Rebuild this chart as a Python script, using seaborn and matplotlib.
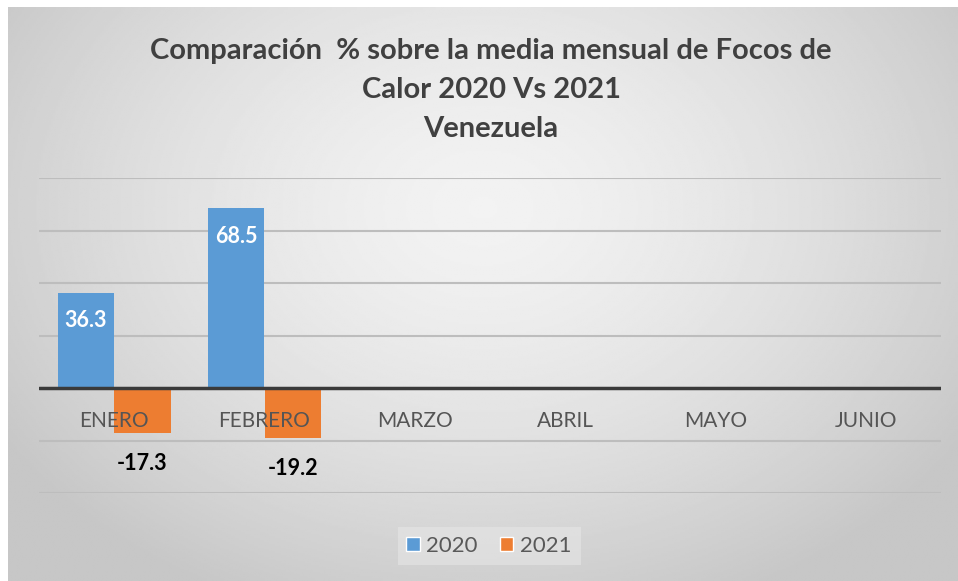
import numpy as np
import pandas as pd
import matplotlib
matplotlib.use("Agg")
import matplotlib.pyplot as plt
import seaborn as sns
from matplotlib.patches import Patch

meses = ["ENERO", "FEBRERO", "MARZO", "ABRIL", "MAYO", "JUNIO"]
val_2020 = [36.3, 68.5, None, None, None, None]
val_2021 = [-17.3, -19.2, None, None, None, None]
anios = ["2020", "2021"]
colores = ["#5B9BD5", "#ED7D31"]

df = pd.DataFrame({
    "mes": meses * 2,
    "anio": [anios[0]] * len(meses) + [anios[1]] * len(meses),
    "valor": val_2020 + val_2021,
}).dropna()

sns.set_style("white")
plt.rcParams["font.family"] = ["Lato", "DejaVu Sans"]

fig = plt.figure(figsize=(9.58, 5.81), dpi=100)

# fondo gris con degradado radial
bg = fig.add_axes([8 / 958, 0, 950 / 958, 574 / 581])
yy, xx = np.mgrid[0:1:300j, 0:1:500j]
r = np.sqrt(((xx - 0.5) / 0.6) ** 2 + ((yy - 0.35) / 0.75) ** 2)
bg.imshow(0.95 - 0.17 * np.clip(r, 0, 1) ** 1.5, cmap="gray", vmin=0, vmax=1,
          aspect="auto", extent=[0, 1, 1, 0])
bg.axis("off")

ax = fig.add_axes([39 / 958, 88 / 581, 902 / 958, 315 / 581])
ax.patch.set_alpha(0)
sns.barplot(data=df, x="mes", y="valor", hue="anio", order=meses, hue_order=anios,
            palette=colores, width=0.75, gap=0, saturation=1, linewidth=0,
            legend=False, ax=ax, zorder=2)

ax.set_xlim(-0.5, len(meses) - 0.5)
ax.set_ylim(-40, 80)
ax.set_yticks(range(-40, 81, 20))
ax.yaxis.grid(True, color="#bdbdbd", lw=1.5, zorder=0)
ax.set_axisbelow(True)
ax.tick_params(left=False, bottom=False, labelleft=False, labelbottom=False)
ax.set_xlabel("")
ax.set_ylabel("")
sns.despine(ax=ax, left=True, bottom=True)
ax.axhline(0, color="#3a3a3a", lw=2.5, zorder=3)

for i, m in enumerate(meses):
    ax.annotate(m, (i, 0), xytext=(0, -33), textcoords="offset pixels", ha="center",
                va="center", fontsize=15, color="#555555", zorder=5)

for cont in ax.containers:
    for rect in cont:
        h = rect.get_height()
        if np.isnan(h) or h == 0:
            continue
        x = rect.get_x() + rect.get_width() / 2
        if h > 0:
            ax.annotate(f"{h:.1f}", (x, h), xytext=(0, -28), textcoords="offset pixels",
                        ha="center", va="center", fontsize=15.5, fontweight="bold",
                        color="white", zorder=6)
        else:
            ax.annotate(f"{h:.1f}", (x, h), xytext=(0, -30), textcoords="offset pixels",
                        ha="center", va="center", fontsize=15.5, fontweight="bold",
                        color="black", zorder=6)

fig.text(491 / 958, 1 - 90 / 581,
         "Comparación  % sobre la media mensual de Focos de\nCalor 2020 Vs 2021\nVenezuela",
         ha="center", va="center", fontsize=21, fontweight="bold", color="#404040",
         linespacing=1.6)

handles = [Patch(facecolor=c, label=a) for a, c in zip(anios, colores)]
fig.legend(handles=handles, loc="center", bbox_to_anchor=(489 / 958, 1 - 546 / 581),
           ncol=2, frameon=True, facecolor="#e6e6e6", edgecolor="none", framealpha=0.6,
           fontsize=16, labelcolor="#595959", handlelength=0.6, handleheight=0.6,
           handletextpad=0.3, columnspacing=1.0, fancybox=False)

fig.savefig("out.png", dpi=100, facecolor="white")
